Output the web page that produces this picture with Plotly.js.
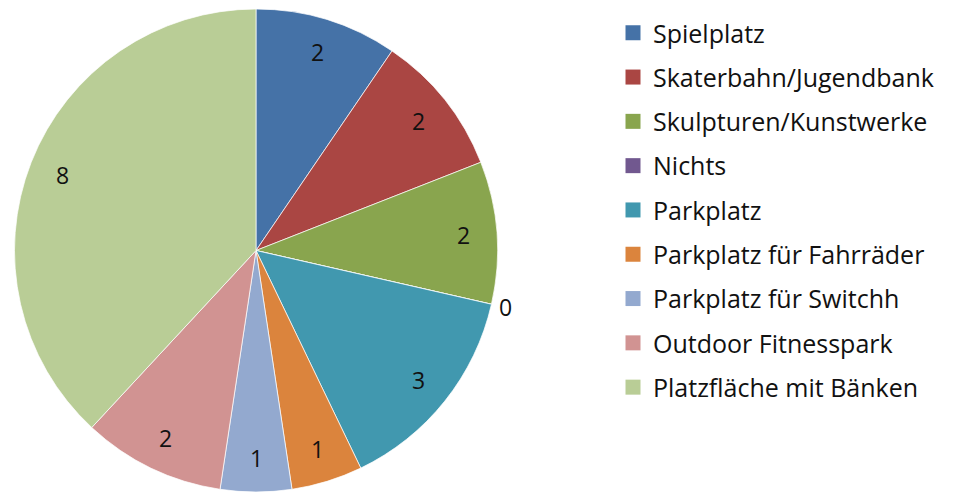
<!DOCTYPE html>
<html><head><meta charset="utf-8">
<script src="https://cdn.plot.ly/plotly-3.0.1.min.js"></script>
<style>html,body{margin:0;padding:0;background:#fff}</style>
</head><body>
<div id="chart" style="width:963px;height:493px"></div>
<script>
const categories = ["Spielplatz","Skaterbahn/Jugendbank","Skulpturen/Kunstwerke","Nichts","Parkplatz","Parkplatz für Fahrräder","Parkplatz für Switchh","Outdoor Fitnesspark","Platzfläche mit Bänken"];
const values = [2,2,2,0,3,1,1,2,8];
const colors = ["#4572A7","#AA4643","#89A54E","#71588F","#4198AF","#DB843D","#93A9CF","#D19392","#B9CD96"];

const W = 963, H = 493;
const domX = [14/W, 498/W], domY = [1/H, 484/H];
const FONT = "'Open Sans', 'Noto Sans', sans-serif";

const pie = {
  type: "pie",
  labels: categories,
  values: values,
  sort: false,
  direction: "clockwise",
  rotation: 0,
  marker: {colors: colors, line: {color: "rgba(255,255,255,0.7)", width: 1}},
  textinfo: "none",
  showlegend: false,
  hoverinfo: "label+value",
  domain: {x: domX, y: domY}
};

const legendTraces = categories.map((c, i) => ({
  type: "scatter", mode: "markers", x: [null], y: [null],
  name: c, legendgroup: "g" + i, showlegend: true,
  marker: {symbol: "square", size: 15, color: colors[i]},
  hoverinfo: "skip"
}));

// data labels placed along each slice's mid-angle (Excel style)
const total = values.reduce((a, b) => a + b, 0);
const cx = (domX[0] + domX[1]) / 2, cy = (domY[0] + domY[1]) / 2;
const Rpx = Math.min((domX[1] - domX[0]) * W, (domY[1] - domY[0]) * H) / 2;
let cum = 0;
const annotations = values.map(v => {
  const mid = (cum + v / 2) / total * 2 * Math.PI;
  cum += v;
  const r = Rpx * (v === 0 ? 1.06 : 0.86);
  return {
    xref: "paper", yref: "paper", showarrow: false,
    x: cx + r * Math.sin(mid) / W, y: cy + r * Math.cos(mid) / H,
    xanchor: "center", yanchor: "middle",
    text: String(v), font: {family: FONT, size: 23, color: "#111"}
  };
});

const layout = {
  width: W, height: H,
  margin: {l: 0, r: 0, t: 0, b: 0},
  paper_bgcolor: "#fff", plot_bgcolor: "#fff",
  xaxis: {visible: false}, yaxis: {visible: false},
  showlegend: true,
  annotations: annotations,
  legend: {
    x: 613/W, xanchor: "left", y: 1 - 10/H, yanchor: "top",
    font: {family: FONT, size: 25, color: "#111"},
    tracegroupgap: 8.8, itemsizing: "trace", traceorder: "grouped",
    bgcolor: "rgba(0,0,0,0)"
  }
};

Plotly.newPlot("chart", [pie].concat(legendTraces), layout, {displayModeBar: false, staticPlot: true});
</script>
</body></html>
